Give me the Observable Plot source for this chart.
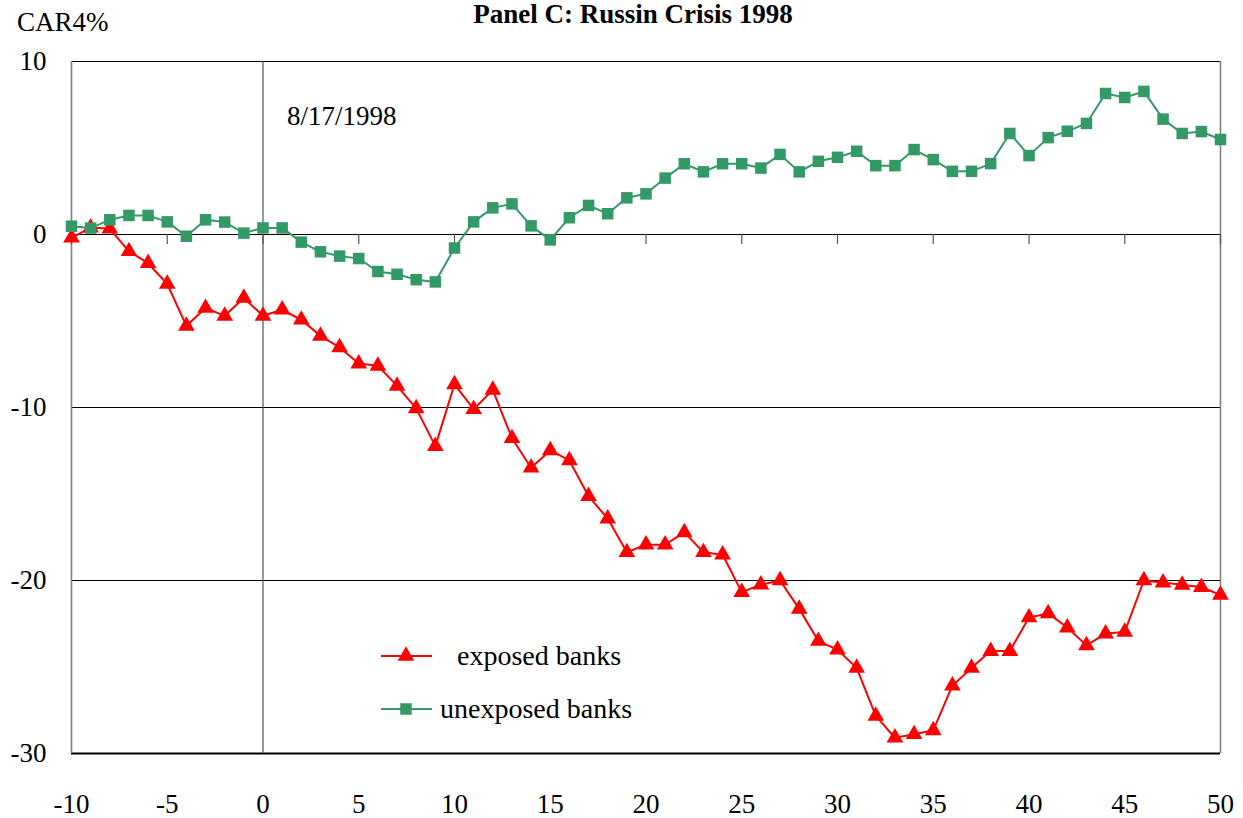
<!DOCTYPE html>
<html>
<head>
<meta charset="utf-8">
<script src="https://cdn.jsdelivr.net/npm/d3@7"></script>
<script src="https://cdn.jsdelivr.net/npm/@observablehq/plot@0.6"></script>
<style>
  html, body { margin: 0; padding: 0; background: #fff; }
  #chart { position: relative; width: 1243px; height: 818px; overflow: hidden; }
</style>
</head>
<body>
<div id="chart"></div>
<script>
// ---- data ----
const days = [-10,-9,-8,-7,-6,-5,-4,-3,-2,-1,0,1,2,3,4,5,6,7,8,9,10,11,12,13,14,15,16,17,18,19,20,
  21,22,23,24,25,26,27,28,29,30,31,32,33,34,35,36,37,38,39,40,41,42,43,44,45,46,47,48,49,50];
const exposed = [-0.19,0.4,0.33,-0.97,-1.66,-2.86,-5.28,-4.25,-4.70,-3.67,
  -4.70,-4.35,-4.93,-5.86,-6.53,-7.46,-7.59,-8.75,-10.05,-12.23,
  -8.66,-10.1,-8.98,-11.78,-13.48,-12.48,-13.06,-15.13,-16.42,-18.37,
  -17.93,-17.93,-17.22,-18.37,-18.51,-20.67,-20.24,-20.0,-21.64,-23.5,
  -24.0,-25.05,-27.83,-29.09,-28.89,-28.66,-26.08,-25.05,-24.08,-24.08,
  -22.14,-21.90,-22.72,-23.75,-23.07,-22.97,-20.0,-20.12,-20.25,-20.39,-20.83];
const unexposed = [0.48,0.37,0.85,1.10,1.10,0.73,-0.1,0.85,0.72,0.08,
  0.38,0.38,-0.44,-1.0,-1.25,-1.39,-2.14,-2.30,-2.61,-2.74,
  -0.78,0.73,1.54,1.77,0.50,-0.31,0.97,1.68,1.20,2.12,
  2.35,3.26,4.09,3.62,4.09,4.09,3.84,4.63,3.62,4.23,
  4.46,4.81,3.98,3.98,4.91,4.33,3.65,3.65,4.10,5.84,
  4.56,5.60,5.97,6.42,8.15,7.92,8.27,6.67,5.84,5.95,5.49];
const seriesNames = ["exposed banks", "unexposed banks"];
const xTicks = [-10,-5,0,5,10,15,20,25,30,35,40,45,50];
const yTicks = [10,0,-10,-20,-30];
const titleText = "Panel C: Russin Crisis 1998";
const yLabelText = "CAR4%";
const eventText = "8/17/1998";

// ---- build ----
const rowsE = days.map((d, i) => ({day: d, car: exposed[i]}));
const rowsU = days.map((d, i) => ({day: d, car: unexposed[i]}));
const RED = "#ff0000", GREEN = "#339966";
const FONT = "'Liberation Serif', 'DejaVu Serif', serif";
const TRI_R = 6.2, SQ_R = 6.5;

const plot = Plot.plot({
  width: 1243,
  height: 818,
  marginLeft: 71,
  marginRight: 23,
  marginTop: 61,
  marginBottom: 65,
  style: {fontFamily: FONT, fontSize: "27px", color: "#000", background: "#fff", overflow: "visible"},
  x: {domain: [-10, 50], label: null},
  y: {domain: [-30, 10], label: null},
  marks: [
    Plot.ruleY(yTicks, {stroke: "#000", strokeWidth: 1.2}),
    Plot.ruleY([-30], {stroke: "#000", strokeWidth: 2.2}),
    Plot.ruleX([-10, 50], {stroke: "#808080", strokeWidth: 1.6}),
    Plot.ruleX([0], {stroke: "#555", strokeWidth: 1.2}),
    Plot.ruleX(xTicks, {y1: 0, y2: -0.58, stroke: "#555", strokeWidth: 1.2}),
    Plot.axisX({ticks: xTicks, tickSize: 0, tickPadding: 40, label: null, tickFormat: d => String(d), fontSize: 27}),
    Plot.axisY({ticks: yTicks, tickSize: 0, tickPadding: 25, label: null, tickFormat: d => String(d), fontSize: 27}),
    Plot.line(rowsE, {x: "day", y: "car", stroke: RED, strokeWidth: 2}),
    Plot.dot(rowsE, {x: "day", y: "car", symbol: "triangle", r: TRI_R, fill: RED, stroke: "none"}),
    Plot.line(rowsU, {x: "day", y: "car", stroke: GREEN, strokeWidth: 2}),
    Plot.dot(rowsU, {x: "day", y: "car", symbol: "square", r: SQ_R, fill: GREEN, stroke: "none"})
  ]
});
document.getElementById("chart").appendChild(plot);

// ---- titles, annotation and legend ----
const svg = d3.select(plot);
const g = svg.append("g").attr("font-family", FONT).attr("fill", "#000").attr("text-anchor", "start");
g.append("text").attr("x", 633).attr("y", 23).attr("text-anchor", "middle")
  .attr("font-weight", "bold").attr("font-size", 27).text(titleText);
g.append("text").attr("x", 17).attr("y", 31).attr("text-anchor", "start").attr("font-size", 27).text(yLabelText);
g.append("text").attr("x", 287).attr("y", 125).attr("text-anchor", "start").attr("font-size", 27).text(eventText);

const legend = [
  {name: seriesNames[0], color: RED, symbol: d3.symbolTriangle, size: Math.PI * TRI_R * TRI_R, y: 656, tx: 457},
  {name: seriesNames[1], color: GREEN, symbol: d3.symbolSquare, size: Math.PI * SQ_R * SQ_R, y: 709, tx: 440}
];
for (const L of legend) {
  g.append("line").attr("x1", 381).attr("x2", 432).attr("y1", L.y).attr("y2", L.y)
    .attr("stroke", L.color).attr("stroke-width", 2);
  g.append("path").attr("d", d3.symbol(L.symbol, L.size)()).attr("transform", `translate(406,${L.y})`)
    .attr("fill", L.color);
  g.append("text").attr("x", L.tx).attr("y", L.y + 9).attr("text-anchor", "start").attr("font-size", 28).text(L.name);
}
</script>
</body>
</html>
